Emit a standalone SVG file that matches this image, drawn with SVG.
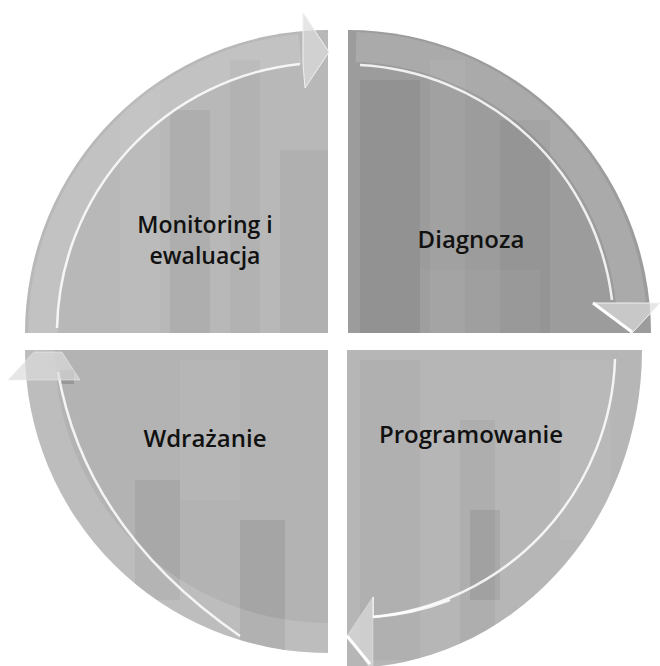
<svg xmlns="http://www.w3.org/2000/svg" width="660" height="666" viewBox="0 0 660 666">
<style>
.lbl{font-family:"Open Sans","Liberation Sans",sans-serif;font-size:24px;font-weight:600;fill:#111111;text-anchor:middle}
.lbl2{font-size:23px}
.band{fill:none;stroke:#ffffff;stroke-opacity:0.14;stroke-width:30}
.wl{fill:none;stroke:#ffffff;stroke-width:2.5;stroke-opacity:0.85}
.head{fill:#dcdcdc;fill-opacity:0.7;stroke:#f0f0f0;stroke-width:1}
.tex{fill:#000000}
.lite{fill:#ffffff}
</style>
<defs>
<clipPath id="cTL"><path d="M328,333 L25,333 A303,303 0 0 1 328,30 Z"/></clipPath>
<clipPath id="cTR"><path d="M348,333 L348,30 A303,303 0 0 1 651,333 Z"/></clipPath>
<clipPath id="cBL"><path d="M328,350 L328,653 A303,303 0 0 1 25,350 Z"/></clipPath>
<clipPath id="cBR"><path d="M347,350 L642,350 A295,318 0 0 1 347,668 Z"/></clipPath>
</defs>
<rect width="660" height="666" fill="#ffffff"/>

<g id="node-monitoring">
<path d="M328,333 L25,333 A303,303 0 0 1 328,30 Z" fill="#b8b8b8"/>
<g clip-path="url(#cTL)">
<rect class="tex" x="170" y="110" width="40" height="223" opacity="0.05"/>
<rect class="tex" x="230" y="60" width="30" height="273" opacity="0.03"/>
<rect class="lite" x="120" y="60" width="40" height="273" opacity="0.05"/>
<rect class="tex" x="280" y="150" width="48" height="183" opacity="0.04"/>
<path class="band" d="M43,333 A285,285 0 0 1 300,49"/>
</g>
<path class="wl" d="M57,328 A271,271 0 0 1 300,64"/>
<polygon class="head" points="303,13 329,52 305,88 303,64"/>
<text class="lbl lbl2" x="205" y="232.5">Monitoring i</text>
<text class="lbl lbl2" x="205" y="264">ewaluacja</text>
</g>

<g id="node-diagnoza">
<path d="M348,333 L348,30 A303,303 0 0 1 651,333 Z" fill="#9c9c9c"/>
<g clip-path="url(#cTR)">
<rect class="tex" x="360" y="80" width="60" height="253" opacity="0.06"/>
<rect class="lite" x="430" y="60" width="35" height="273" opacity="0.05"/>
<rect class="tex" x="500" y="120" width="50" height="213" opacity="0.04"/>
<rect class="lite" x="420" y="270" width="120" height="63" opacity="0.04"/>
<path class="band" d="M356,47 A285,285 0 0 1 631,303"/>
</g>
<path class="wl" d="M360,65 A268,268 0 0 1 612,300"/>
<polygon class="head" points="593,303 632,333 660,303 616,303" fill-opacity="0.55"/>
<line x1="593" y1="303" x2="632" y2="332" stroke="#ffffff" stroke-width="3"/>
<text class="lbl" x="471" y="248">Diagnoza</text>
</g>

<g id="node-programowanie">
<path d="M347,350 L642,350 A295,318 0 0 1 347,668 Z" fill="#b6b6b6"/>
<g clip-path="url(#cBR)">
<rect class="tex" x="460" y="420" width="35" height="246" opacity="0.04"/>
<rect class="tex" x="470" y="510" width="30" height="90" opacity="0.07"/>
<rect class="lite" x="560" y="360" width="50" height="180" opacity="0.05"/>
<rect class="tex" x="360" y="360" width="60" height="300" opacity="0.03"/>
</g>
<path class="wl" d="M615,359 A268,268 0 0 1 373,617" stroke-opacity="0.2"/>
<path class="wl" d="M450,600 A268,268 0 0 1 373,617" stroke-opacity="0.7"/>
<line x1="373" y1="597" x2="373" y2="617" stroke="#ffffff" stroke-width="2" stroke-opacity="0.7"/>
<polygon class="head" points="373,597 347,636 373,672" fill-opacity="0.25" stroke-opacity="0.4"/>
<line x1="347" y1="636" x2="370" y2="664" stroke="#ffffff" stroke-width="3"/>
<text class="lbl" x="471" y="443">Programowanie</text>
</g>

<g id="node-wdrazanie">
<path d="M328,350 L328,653 A303,303 0 0 1 25,350 Z" fill="#b3b3b3"/>
<g clip-path="url(#cBL)">
<rect class="tex" x="135" y="480" width="45" height="120" opacity="0.06"/>
<rect class="tex" x="240" y="520" width="45" height="133" opacity="0.08"/>
<rect class="lite" x="180" y="360" width="60" height="140" opacity="0.05"/>
<rect class="tex" x="60" y="370" width="14" height="14" opacity="0.15"/>
<path class="band" d="M40,350 A288,288 0 0 0 328,638" stroke-opacity="0.12"/>
</g>
<path class="wl" d="M58,372 C75,470 130,560 240,636"/>
<polygon class="head" points="8,380 34,352 62,352 80,380" fill-opacity="0.35" stroke-opacity="0.5"/>
<text class="lbl" x="205" y="447">Wdrażanie</text>
</g>

<g id="connectors"></g>
</svg>
